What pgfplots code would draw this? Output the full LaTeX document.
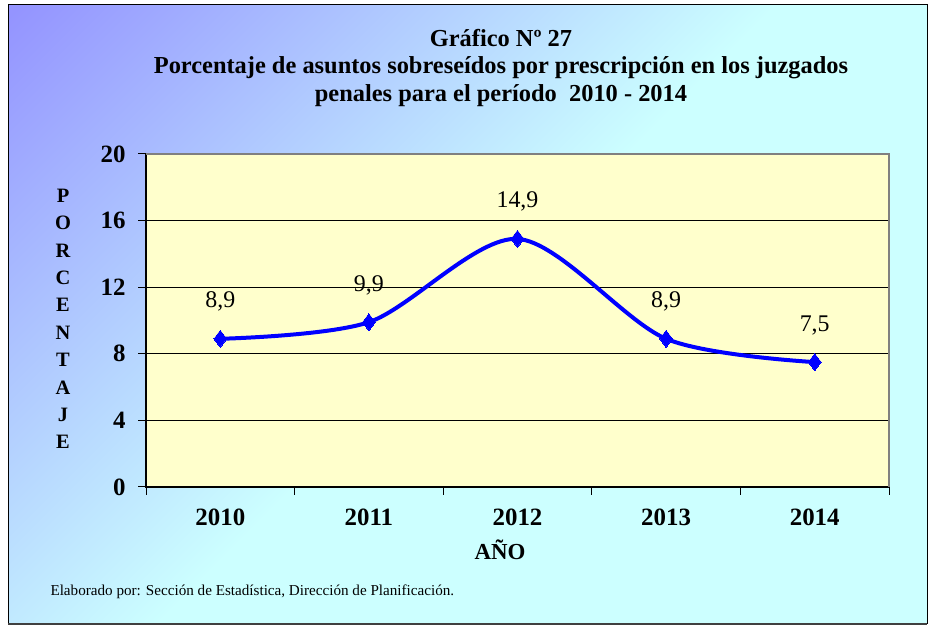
\documentclass[border=0pt]{standalone}
\usepackage{fontspec}
\setmainfont{Liberation Serif}
\usepackage{pgfplots}
\usepackage{pgfplotstable}
\pgfplotsset{compat=1.18}
\definecolor{bgA}{HTML}{9494FF}
\definecolor{bgB}{HTML}{CCFFFF}
\definecolor{plotbg}{HTML}{FFFFCC}
\pgfdeclarehorizontalshading{bgshade}{100bp}{color(0bp)=(bgA); color(15bp)=(bgA); color(50bp)=(bgB); color(100bp)=(bgB)}

\pgfplotstableread{
x y lab
0 8.9 {8,9}
1 9.9 {9,9}
2 14.9 {14,9}
3 8.9 {8,9}
4 7.5 {7,5}
}\datatable

\begin{document}
\begin{tikzpicture}[x=1bp,y=1bp]
\useasboundingbox (0,0) rectangle (928,631);
\fill[white] (0,0) rectangle (928,631);
\shade[shading=bgshade, shading angle=-45] (8,7) rectangle (927,626);
\draw[black, line width=1bp] (8,7) rectangle (927,626);
\draw[black!75, line width=2bp] (8,6.5) -- (927,6.5);

\node[font=\bfseries\fontsize{24.5}{28}\selectfont, align=center] at (501,563)
  {Gráfico Nº 27\\Porcentaje de asuntos sobreseídos por prescripción en los juzgados\\penales para el período\ \ 2010 - 2014};

\node[font=\bfseries\fontsize{20.5}{27.5}\selectfont, align=center] at (63,312)
  {P\\O\\R\\C\\E\\N\\T\\A\\J\\E};

\node[font=\bfseries\fontsize{23}{23}\selectfont] at (500,81) {AÑO};

\node[anchor=base west, font=\fontsize{15.2}{17}\selectfont] at (47,35)
  {Elaborado por: Sección de Estadística, Dirección de Planificación.};

\begin{axis}[
  at={(146bp,144bp)}, anchor=south west, scale only axis,
  width=743bp, height=333bp,
  xmin=-0.5, xmax=4.5, ymin=0, ymax=20,
  axis background/.style={fill=plotbg},
  xtick={-0.5,0.5,1.5,2.5,3.5,4.5}, xticklabels={},
  extra x ticks={0,1,2,3,4},
  extra x tick labels={2010,2011,2012,2013,2014},
  extra x tick style={major tick length=0pt, grid=none, xticklabel style={yshift=-18bp}},
  ytick={0,4,8,12,16,20},
  xtick pos=bottom, ytick pos=left,
  tick align=outside, major tick length=8bp,
  ymajorgrids, grid style={black, line width=0.7bp},
  axis line style={black, line width=1.2bp},
  tick style={black, line width=1bp},
  ticklabel style={font=\bfseries\fontsize{25}{25}\selectfont},
  yticklabel style={xshift=-9bp},
  /pgf/number format/assume math mode=true,
  clip=false,
  after end axis/.code={\draw[gray, line width=2.5bp] (rel axis cs:0,1) -- (rel axis cs:1,1) -- (rel axis cs:1,0);},
  nodes near coords, point meta=explicit symbolic,
  every node near coord/.append style={font=\fontsize{24}{24}\selectfont, anchor=base, yshift=31bp, text=black},
]
\addplot[blue, line width=4bp, smooth, tension=0.5, mark=diamond*, mark size=8.5bp, mark options={solid, line width=0pt}]
  table[x=x, y=y, meta=lab] {\datatable};
\end{axis}
\end{tikzpicture}
\end{document}
